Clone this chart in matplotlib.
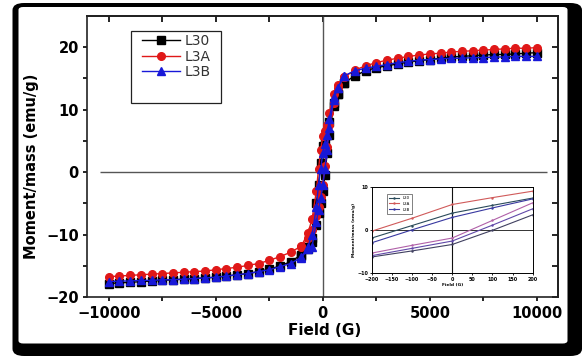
import matplotlib
matplotlib.use("Agg")
import matplotlib.pyplot as plt
from matplotlib.patches import FancyBboxPatch, Rectangle

# ---------------- data (main loop, descending branch) ----------------
field_down = [10000, 9500, 9000, 8500, 8000, 7500, 7000, 6500, 6000, 5500,
              5000, 4500, 4000, 3500, 3000, 2500, 2000, 1500, 1000, 700,
              500, 300, 200, 100, 0, -100, -200, -300, -500, -700,
              -1000, -1500, -2000, -2500, -3000, -3500, -4000, -4500, -5000, -5500,
              -6000, -6500, -7000, -7500, -8000, -8500, -9000, -9500, -10000]

L30_down = [19.1, 19.0, 18.9, 18.8, 18.8, 18.7, 18.6, 18.5, 18.4, 18.2,
            18.0, 17.8, 17.6, 17.3, 17.0, 16.7, 16.2, 15.4, 14.3, 12.5,
            11.0, 8.0, 6.0, 4.8, 4.2, 1.5, -2.0, -5.0, -10.5, -12.0,
            -13.2, -14.3, -15.0, -15.5, -15.9, -16.2, -16.4, -16.6, -16.8, -16.9,
            -17.0, -17.1, -17.2, -17.3, -17.4, -17.5, -17.6, -17.7, -17.8]

L3A_down = [19.9, 19.8, 19.8, 19.7, 19.6, 19.5, 19.4, 19.3, 19.2, 19.0,
            18.9, 18.7, 18.5, 18.2, 17.9, 17.5, 17.0, 16.3, 15.2, 13.9,
            12.5, 9.5, 7.5, 6.5, 5.8, 3.5, 0.5, -3.0, -7.5, -9.8,
            -11.8, -12.8, -13.5, -14.1, -14.6, -14.9, -15.2, -15.4, -15.6, -15.8,
            -15.9, -16.0, -16.1, -16.2, -16.3, -16.4, -16.5, -16.6, -16.7]

L3B_down = [18.5, 18.5, 18.5, 18.4, 18.4, 18.3, 18.3, 18.2, 18.2, 18.1,
            18.0, 17.9, 17.7, 17.5, 17.2, 16.9, 16.6, 16.2, 15.4, 13.5,
            12.0, 8.5, 6.0, 4.5, 3.0, 0.5, -2.0, -5.5, -10.0, -11.9,
            -13.6, -14.6, -15.1, -15.6, -15.9, -16.2, -16.4, -16.6, -16.8, -16.9,
            -17.0, -17.1, -17.2, -17.2, -17.3, -17.3, -17.4, -17.4, -17.5]

# ascending branch near zero field
field_up = [-1000, -700, -500, -300, -200, -100, 0, 100, 200, 300, 500, 700, 1000]
L30_up = [-13.4, -12.3, -11.2, -8.5, -6.5, -5.0, -3.0, -0.5, 3.0, 6.0, 10.5, 12.5, 14.3]
L3A_up = [-12.0, -10.5, -9.3, -7.0, -5.5, -4.0, -2.0, 1.0, 4.0, 7.5, 11.0, 13.5, 15.2]
L3B_up = [-13.7, -12.3, -11.9, -8.0, -6.0, -4.2, -2.0, 0.5, 3.5, 7.0, 11.5, 13.5, 15.4]

labels = ["L30", "L3A", "L3B"]
colors = ["#000000", "#e01818", "#1818d8"]
markers = ["s", "o", "^"]

# ---------------- data (inset, low field) ----------------
inset_field = [-200, -100, 0, 100, 200]
in_L30_upper = [-1.8, 1.1, 4.0, 5.8, 7.5]
in_L3A_upper = [-0.2, 2.8, 6.0, 7.6, 9.1]
in_L3B_upper = [-2.9, 0.1, 3.0, 5.2, 7.3]
in_L30_lower = [-6.2, -4.8, -3.3, 0.0, 3.6]
in_L3A_lower = [-5.3, -3.5, -1.8, 2.3, 6.4]
in_L3B_lower = [-5.9, -4.2, -2.5, 1.2, 5.0]
inset_xticks = [-200, -150, -100, -50, 0, 50, 100, 150, 200]
inset_yticks = [-10, 0, 10]

W, H = 582, 358
fig = plt.figure(figsize=(W / 100, H / 100), dpi=100)
fig.patch.set_facecolor("white")

# frame (black rounded border with white panel)
outer = FancyBboxPatch((12.5 / W, 2 / H), (582 - 12.5) / W, (355 - 2) / H,
                       boxstyle="round,pad=0,rounding_size=0.02",
                       transform=fig.transFigure, facecolor="black",
                       edgecolor="none", zorder=-10)
inner = FancyBboxPatch((18.5 / W, (358 - 343.5) / H), (567.5 - 18.5) / W, (343.5 - 7) / H,
                       boxstyle="round,pad=0,rounding_size=0.008",
                       transform=fig.transFigure, facecolor="white",
                       edgecolor="none", zorder=-9)
fig.patches.extend([outer, inner])

ax = fig.add_axes([87.3 / W, 1 - 297.3 / H, (558.3 - 87.3) / W, (297.3 - 15.7) / H])
ax.set_xlim(-11000, 11000)
ax.set_ylim(-20, 25)

ax.axvline(0, color="#555555", lw=1.0, zorder=1)
ax.hlines(0, -10400, 10450, color="#555555", lw=1.0, zorder=1)

series_down = [L30_down, L3A_down, L3B_down]
series_up = [L30_up, L3A_up, L3B_up]
for yd, yu, lab, c, m in zip(series_down, series_up, labels, colors, markers):
    ax.plot(field_down, yd, color=c, marker=m, ms=5.5, lw=1.0, label=lab, zorder=3)
    ax.plot(field_up, yu, color=c, marker=m, ms=5.5, lw=1.0, zorder=3)

ax.set_xticks([-10000, -5000, 0, 5000, 10000])
ax.set_xticks([-7500, -2500, 2500, 7500], minor=True)
ax.set_yticks([-20, -10, 0, 10, 20])
ax.set_yticks([-15, -5, 5, 15], minor=True)
ax.tick_params(which="both", direction="out", length=3, width=1.2, top=False, right=False)
ax.tick_params(axis="x", pad=3.5)
ax.tick_params(axis="y", pad=3)
for lab in ax.get_xticklabels() + ax.get_yticklabels():
    lab.set_fontweight("bold")
    lab.set_fontsize(10.5)
for s in ax.spines.values():
    s.set_linewidth(1.2)
    s.set_color("#222222")

# inward ticks on top and right
sec_x = ax.secondary_xaxis("top")
sec_x.set_xticks([-10000, -5000, 0, 5000, 10000])
sec_x.set_xticks([-7500, -2500, 2500, 7500], minor=True)
sec_x.tick_params(which="both", direction="in", length=4, width=1.2, labeltop=False)
sec_x.spines["top"].set_linewidth(1.2)
sec_y = ax.secondary_yaxis("right")
sec_y.set_yticks([-20, -10, 0, 10, 20])
sec_y.set_yticks([-15, -5, 5, 15], minor=True)
sec_y.tick_params(which="both", direction="in", length=4, width=1.2, labelright=False)
sec_y.spines["right"].set_linewidth(1.2)

ax.set_xlabel("Field (G)", fontsize=11, fontweight="bold", va="top")
ax.xaxis.set_label_coords(0.5047, -0.092)
ax.set_ylabel("Moment/mass (emu/g)", fontsize=10.5, fontweight="bold")
ax.yaxis.set_label_coords(-0.1025, 0.466)

leg = ax.legend(loc="upper left", bbox_to_anchor=(0.1155, 0.935), frameon=False,
                fontsize=10, handlelength=2.76, handletextpad=0.35,
                labelspacing=0.12, borderpad=0, borderaxespad=0)
for t in leg.get_texts():
    t.set_color("#333333")
ax.add_patch(Rectangle((0.0928, 0.690), 0.191, 0.256, transform=ax.transAxes,
                       fill=False, edgecolor="#222222", lw=0.9, zorder=4))

# ---------------- inset ----------------
ins = fig.add_axes([371.7 / W, 1 - 273.3 / H, (532.7 - 371.7) / W, 86 / H])
ins.set_xlim(-200, 200)
ins.set_ylim(-10, 10)
ins.axvline(0, color="#111111", lw=0.8)
ins.axhline(0, color="#333333", lw=0.7)
in_upper = [in_L30_upper, in_L3A_upper, in_L3B_upper]
in_lower = [in_L30_lower, in_L3A_lower, in_L3B_lower]
up_cols = ["#2a4a5a", "#d05a5a", "#3838a0"]
lo_cols = ["#404060", "#b060a8", "#6048a8"]
for yu, yl, cu, cl, lab in zip(in_upper, in_lower, up_cols, lo_cols, labels):
    ins.plot(inset_field, yu, color=cu, lw=0.8, marker=".", ms=1.5, label=lab)
    ins.plot(inset_field, yl, color=cl, lw=0.8, marker=".", ms=1.5)
ins.set_xticks(inset_xticks)
ins.set_yticks(inset_yticks)
ins.tick_params(which="both", direction="out", length=1.5, width=0.6, labelsize=3.5, pad=1)
for lab in ins.get_xticklabels() + ins.get_yticklabels():
    lab.set_fontweight("bold")
for s in ins.spines.values():
    s.set_linewidth(0.7)
ins.set_xlabel("Field (G)", fontsize=3.2, fontweight="bold", labelpad=1)
ins.set_ylabel("Moment/mass (emu/g)", fontsize=3.1, fontweight="bold", labelpad=1)
ileg = ins.legend(loc="upper left", bbox_to_anchor=(0.083, 0.95), fontsize=2.8,
                  frameon=True, fancybox=False, edgecolor="#222222",
                  handlelength=2.5, borderpad=0.6, labelspacing=0.5)
ileg.get_frame().set_linewidth(0.5)

fig.savefig("out.png", dpi=100)
